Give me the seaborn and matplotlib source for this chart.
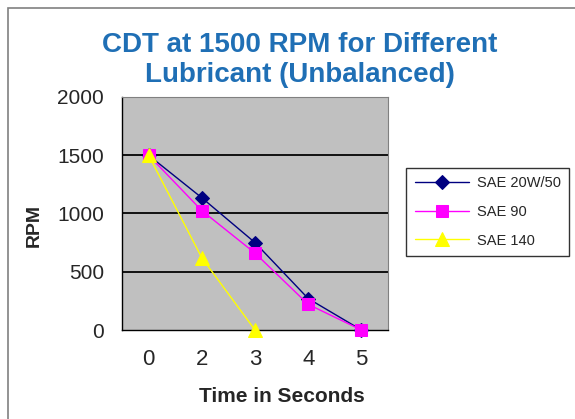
import numpy as np
import pandas as pd
import matplotlib
matplotlib.use("Agg")
import matplotlib.pyplot as plt
import seaborn as sns
from matplotlib.patches import Rectangle

# chart data
times = ["0", "2", "3", "4", "5"]
sae_20w50 = [1500, 1135, 750, 270, 0]
sae_90 = [1500, 1025, 660, 220, 0]
sae_140 = [1500, 620, 0, np.nan, np.nan]
series_names = ["SAE 20W/50", "SAE 90", "SAE 140"]

rows = []
for name, vals in zip(series_names, [sae_20w50, sae_90, sae_140]):
    for i, (t, v) in enumerate(zip(times, vals)):
        if not np.isnan(v):
            rows.append({"pos": i, "time": t, "rpm": v, "series": name})
df = pd.DataFrame(rows)

sns.set_style("white")
plt.rcParams["font.family"] = ["Liberation Sans", "DejaVu Sans"]

fig = plt.figure(figsize=(5.75, 4.19), dpi=100)
# chart area border (Excel style)
fig.patches.append(Rectangle((8 / 575, -0.05), 1.2, 1 - 8 / 419 + 0.05,
                             transform=fig.transFigure, fill=False,
                             edgecolor="#808080", linewidth=1.2))

ax = fig.add_axes([122 / 575, 1 - 330 / 419, 266 / 575, 233 / 419])
ax.set_facecolor("#C0C0C0")

palette = {"SAE 20W/50": "#000080", "SAE 90": "#FF00FF", "SAE 140": "#FFFF00"}
markers = {"SAE 20W/50": "D", "SAE 90": "s", "SAE 140": "^"}
sizes = {"SAE 20W/50": 7, "SAE 90": 9, "SAE 140": 9.5}

for name in series_names:
    sub = df[df["series"] == name]
    sns.lineplot(data=sub, x="pos", y="rpm", color=palette[name], marker=markers[name],
                 markersize=sizes[name], markeredgecolor=palette[name], linewidth=1,
                 label=name, ax=ax, zorder=3, clip_on=False)

ax.set_xlim(-0.5, len(times) - 0.5)
ax.set_ylim(0, 2000)
ax.set_yticks([0, 500, 1000, 1500, 2000])
ax.set_xticks(range(len(times)))
ax.set_xticklabels(times)
ax.set_xticks(np.arange(-0.5, len(times)), minor=True)
ax.tick_params(axis="x", which="major", length=0, labelsize=16, pad=14)
ax.tick_params(axis="x", which="minor", length=5, width=1, color="black", direction="out")
ax.tick_params(axis="y", length=5, width=1, color="black", direction="out", labelsize=15, pad=8)
for y in [500, 1000, 1500]:
    ax.axhline(y, color="#111111", linewidth=1.4, zorder=1)

for side in ["top", "right"]:
    ax.spines[side].set_color("#808080")
for side in ["left", "bottom"]:
    ax.spines[side].set_color("black")
    ax.spines[side].set_linewidth(1)

ax.set_xlabel("Time in Seconds", fontsize=15, fontweight="bold")
ax.xaxis.set_label_coords(0.6, -(387 - 330) / 233)
ax.set_ylabel("RPM", fontsize=14, fontweight="bold")
ax.yaxis.label.set_va("center")
ax.yaxis.set_label_coords((34 - 122) / 266, (330 - 225) / 233)

fig.text(300 / 575, 1 - 60 / 419, "CDT at 1500 RPM for Different\nLubricant (Unbalanced)",
         ha="center", va="center", fontsize=20, fontweight="bold", color="#1F6FB5",
         linespacing=1.15)

leg = ax.legend(loc="center left", bbox_to_anchor=(406 / 575, 1 - 212 / 419),
                bbox_transform=fig.transFigure, frameon=True, fancybox=False,
                fontsize=10.5, borderpad=0.6, labelspacing=1.0, handlelength=3.7,
                handletextpad=0.55, borderaxespad=0)
leg.get_frame().set_edgecolor("black")
leg.get_frame().set_linewidth(1)

fig.savefig("out.png", dpi=100)
